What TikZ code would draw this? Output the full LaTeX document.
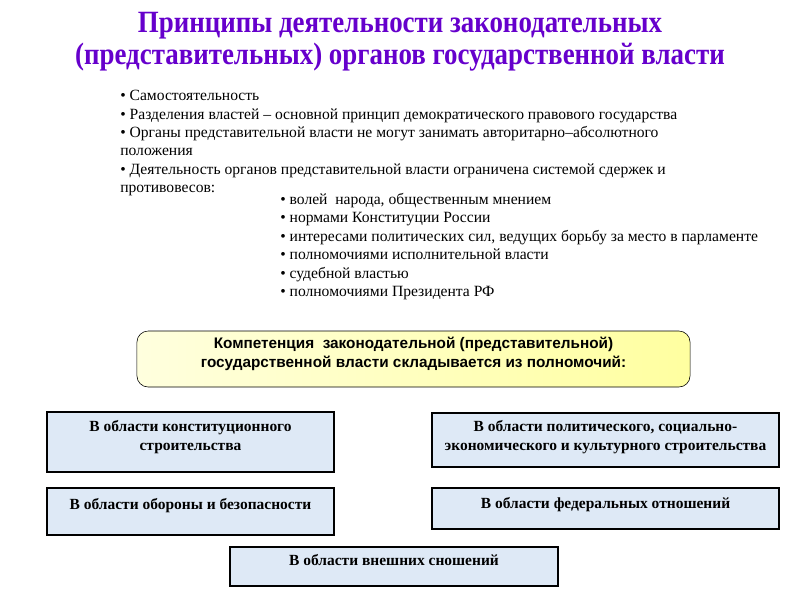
\documentclass[tikz,border=0pt]{standalone}
\usepackage{fontspec}
\setmainfont{Liberation Serif}
\setsansfont{Liberation Sans}
\newfontfamily\titlefont[FakeStretch=0.87]{Liberation Serif}
\usetikzlibrary{positioning}

\definecolor{titleviolet}{RGB}{102,0,204}
\definecolor{areablue}{RGB}{222,233,246}
\definecolor{paleyellow}{RGB}{255,255,222}
\definecolor{deepyellow}{RGB}{255,255,160}

\begin{document}
\begin{tikzpicture}[x=0.025cm,y=-0.025cm,thin,
    heading/.style={font=\titlefont\bfseries\fontsize{22}{22.5}\selectfont,text=titleviolet,align=center},
    points/.style={anchor=north west,align=left,inner sep=0pt,font=\fontsize{11.1}{13.1}\selectfont},
    competence/.style={draw,rounded corners=8pt,left color=paleyellow,right color=deepyellow,
        minimum width=13.825cm,minimum height=1.4cm,align=center,
        font=\sffamily\bfseries\fontsize{10.9}{13.2}\selectfont,text depth=9.7pt},
    area/.style={draw,thick,fill=areablue,align=center,
        font=\bfseries\fontsize{11}{13.6}\selectfont}]

\useasboundingbox (0,0) rectangle (800,600);

\node [heading] (title) at (400,42) {Принципы деятельности законодательных\\
    (представительных) органов государственной власти};

% principles
\node [points] (main) at (120,90) {%
    \textbullet\ Самостоятельность\\
    \textbullet\ Разделения властей -- основной принцип демократического правового государства\\
    \textbullet\ Органы представительной власти не могут занимать авторитарно--абсолютного\\
    положения\\
    \textbullet\ Деятельность органов представительной власти ограничена системой сдержек и\\
    противовесов:};
\node [points] (checks) at (280,193) {%
    \textbullet\ волей\ \ народа, общественным мнением\\
    \textbullet\ нормами Конституции России\\
    \textbullet\ интересами политических сил, ведущих борьбу за место в парламенте\\
    \textbullet\ полномочиями исполнительной власти\\
    \textbullet\ судебной властью\\
    \textbullet\ полномочиями Президента РФ};

% competence
\node [competence] (comp) at (413.5,359) {Компетенция\ \ законодательной (представительной)\\
    государственной власти складывается из полномочий:};

% areas
\node [area,minimum width=7.175cm,minimum height=1.5cm,text depth=9.5pt] (constit) at (190.5,442)
    {В области конституционного\\ строительства};
\node [area,minimum width=8.675cm,minimum height=1.35cm,text depth=7pt] (polit) at (605.5,440)
    {В области политического, социально-\\ экономического и культурного строительства};
\node [area,minimum width=7.175cm,minimum height=1.175cm,text depth=10.3pt] (defence) at (190.5,511.5)
    {В области обороны и безопасности};
\node [area,minimum width=8.675cm,minimum height=1.025cm,text depth=7.2pt] (federal) at (605.5,508.5)
    {В области федеральных отношений};
\node [area,minimum width=8.2cm,minimum height=0.975cm,text depth=9.2pt] (foreign) at (394,566.5)
    {В области внешних сношений};

\end{tikzpicture}
\end{document}
